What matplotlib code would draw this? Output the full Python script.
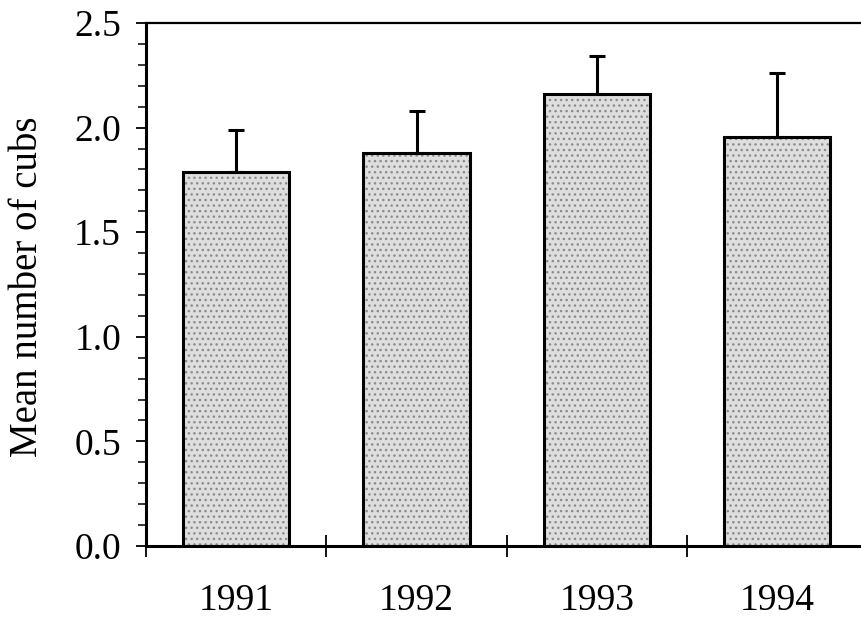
import numpy as np
import matplotlib
matplotlib.use("Agg")
import matplotlib.pyplot as plt
from matplotlib.ticker import MultipleLocator, FixedLocator

years = ["1991", "1992", "1993", "1994"]
mean_cubs = [1.79, 1.88, 2.16, 1.955]
err_upper = [0.20, 0.20, 0.18, 0.305]

plt.rcParams['font.family'] = ['Liberation Serif', 'DejaVu Serif']

fig = plt.figure(figsize=(8.62, 6.19), dpi=100)
ax = fig.add_axes([146 / 862, 73 / 619, 1 - 146 / 862, (546 - 23) / 619])

x = np.arange(len(years))
w = 0.59
# stippled fill, then black outline on top
ax.bar(x, mean_cubs, width=w, color='#dedede', edgecolor='#8c8c8c',
       hatch='...', linewidth=0, zorder=2)
ax.bar(x, mean_cubs, width=w, facecolor='none', edgecolor='black',
       linewidth=2.2, zorder=3)
ax.errorbar(x, mean_cubs, yerr=[np.zeros(len(x)), err_upper], fmt='none',
            ecolor='black', elinewidth=2.2, capsize=6, capthick=2.2, zorder=4)

ax.set_xlim(-0.5, 3.47)
ax.set_ylim(0, 2.5)

ax.spines['right'].set_visible(False)
ax.spines['left'].set_linewidth(2.2)
ax.spines['bottom'].set_linewidth(2.2)
ax.spines['top'].set_linewidth(1.6)

ax.yaxis.set_major_locator(MultipleLocator(0.5))
ax.yaxis.set_minor_locator(MultipleLocator(0.1))
ax.yaxis.set_major_formatter(plt.FuncFormatter(lambda v, p: f"{v:.1f}"))
ax.tick_params(axis='y', which='major', direction='out', length=7, width=1.3,
               labelsize=27, pad=11)
ax.tick_params(axis='y', which='minor', direction='out', length=6, width=1.1)

ax.set_xticks(x)
ax.set_xticklabels(years)
ax.xaxis.set_minor_locator(FixedLocator([-0.5, 0.5, 1.5, 2.5]))
ax.tick_params(axis='x', which='major', length=0, labelsize=27, pad=27)
ax.tick_params(axis='x', which='minor', direction='inout', length=16, width=1.3)

fig.text(28 / 862, 1 - 287 / 619, "Mean number of cubs", rotation=90,
         ha='center', va='center', fontsize=28)

fig.savefig("out.png", dpi=100)
